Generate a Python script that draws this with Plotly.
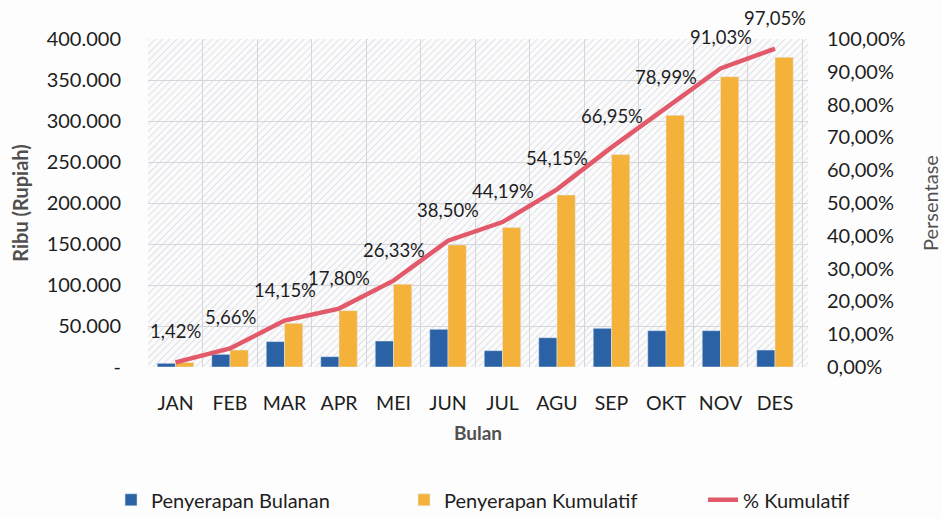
import plotly.graph_objects as go
import base64

months = ["JAN", "FEB", "MAR", "APR", "MEI", "JUN", "JUL", "AGU", "SEP", "OKT", "NOV", "DES"]
bulanan = [4500, 15400, 31000, 12600, 31700, 46000, 19900, 35700, 47200, 44300, 44300, 20700]
kumulatif = [5500, 20700, 53300, 68700, 101000, 148800, 170000, 209800, 259000, 307000, 354000, 377700]
persen = [0.0142, 0.0566, 0.1415, 0.1780, 0.2633, 0.3850, 0.4419, 0.5415, 0.6695, 0.7899, 0.9103, 0.9705]
persen_labels = ["1,42%", "5,66%", "14,15%", "17,80%", "26,33%", "38,50%", "44,19%",
                 "54,15%", "66,95%", "78,99%", "91,03%", "97,05%"]
left_tickvals = [0, 50000, 100000, 150000, 200000, 250000, 300000, 350000, 400000]
left_ticktext = ["-", "50.000", "100.000", "150.000", "200.000", "250.000", "300.000", "350.000", "400.000"]

FONT = "Lato"
blue = "#2b62a6"
orange = "#f4b23a"
red = "#e2596a"
txt = "#1e1e1e"

fig = go.Figure()
fig.add_trace(go.Bar(x=months, y=bulanan, name="Penyerapan Bulanan", marker_color=blue,
                     yaxis="y", legendwidth=248))
fig.add_trace(go.Bar(x=months, y=kumulatif, name="Penyerapan Kumulatif", marker_color=orange,
                     yaxis="y", legendwidth=254))
fig.add_trace(go.Scatter(x=months, y=persen, name="% Kumulatif", mode="lines",
                         line=dict(color=red, width=4.5), yaxis="y2", legendwidth=120))

for m, p, t in zip(months, persen, persen_labels):
    fig.add_annotation(x=m, y=p, yref="y2", text=t, showarrow=False, yshift=31,
                       font=dict(family=FONT, size=18.5, color=txt))

# hatched plot background
svg = ('<svg xmlns="http://www.w3.org/2000/svg" width="660" height="328">'
       '<defs><pattern id="h" width="5" height="5" patternUnits="userSpaceOnUse" '
       'patternTransform="rotate(45)"><line x1="0" y1="0" x2="0" y2="5" '
       'stroke="#cdd0d8" stroke-width="1.2"/></pattern></defs>'
       '<rect width="660" height="328" fill="#fbfbfc"/>'
       '<rect width="660" height="328" fill="url(#h)"/></svg>')
uri = "data:image/svg+xml;base64," + base64.b64encode(svg.encode()).decode()
fig.add_layout_image(source=uri, xref="paper", yref="paper", x=0, y=1, sizex=1, sizey=1,
                     xanchor="left", yanchor="top", sizing="stretch", layer="below")

fig.update_layout(
    width=942, height=518,
    margin=dict(l=148, r=134, t=39, b=151, autoexpand=False),
    paper_bgcolor="#fdfdfd", plot_bgcolor="rgba(0,0,0,0)",
    separators=",.",
    barmode="group", bargap=0.33, bargroupgap=0,
    font=dict(family=FONT, size=19, color=txt),
    showlegend=True,
    legend=dict(orientation="h", x=-0.056, xanchor="left", y=-0.405, yanchor="middle",
                font=dict(family=FONT, size=20, color=txt),
                bgcolor="rgba(0,0,0,0)"),
    xaxis=dict(tickson="boundaries", showgrid=True, gridcolor="#d4d6dc", ticks="",
               tickfont=dict(size=19.5), showline=False, ticklabelstandoff=22,
               title=dict(text="<b>Bulan</b>", font=dict(size=19, color="#505050"), standoff=14)),
    yaxis=dict(range=[0, 400000], tickvals=left_tickvals, ticktext=left_ticktext,
               showgrid=True, gridcolor="#d4d6dc", zeroline=False, ticks="",
               tickfont=dict(size=20), ticklabelstandoff=26,
               title=dict(text="<b>Ribu (Rupiah)</b>", font=dict(size=20, color="#505050"), standoff=12)),
    yaxis2=dict(range=[0, 1], overlaying="y", side="right", tickformat=".2%", dtick=0.1,
                showgrid=False, zeroline=False, ticks="", tickfont=dict(size=20),
                ticklabelstandoff=18,
                title=dict(text="Persentase", font=dict(size=20, color="#505050"), standoff=20)),
)

fig.write_html("out.html")
